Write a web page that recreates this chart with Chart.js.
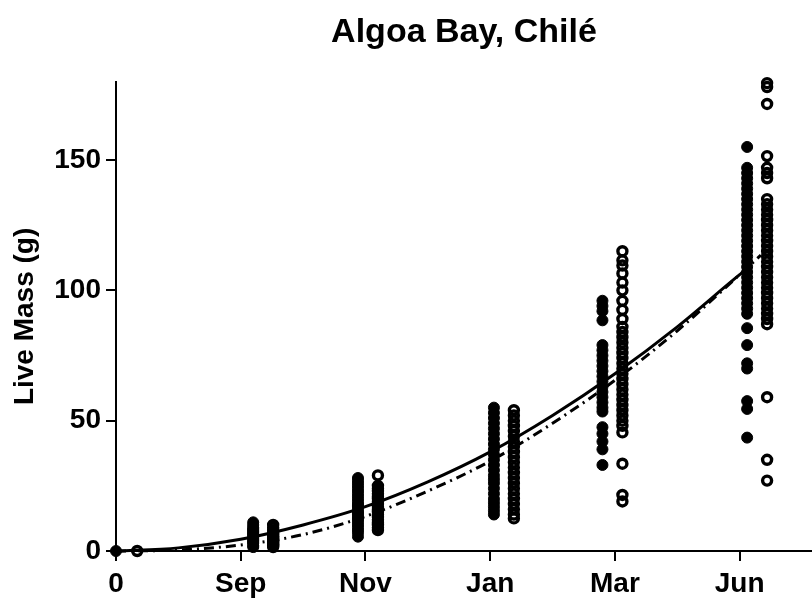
<!DOCTYPE html>
<html>
<head>
<meta charset="utf-8">
<title>Algoa Bay, Chilé</title>
<script src="https://cdn.jsdelivr.net/npm/chart.js@4.4.1/dist/chart.umd.min.js"></script>
<style>
  body { margin: 0; background: #fff; }
  #wrap { width: 812px; height: 601px; }
</style>
</head>
<body>
<div id="wrap"><canvas id="massChart" width="812" height="601"></canvas></div>
<script>
// Etiquetas del eje X (posiciones 0..5)
const xTickLabels = ['0', 'Sep', 'Nov', 'Jan', 'Mar', 'Jun'];

// Posición X de cada grupo (relleno / abierto)
const filledX = [0, 1.10, 1.94, 3.03, 3.90, 5.06];
const openX = [0.17, 1.26, 2.10, 3.19, 4.06, 5.22];

// Masa viva (g) - círculos rellenos
const startFilled = [0];
const sepFilled = [1.5, 2, 3, 3.5, 4, 4.5, 5, 5.5, 6, 6.5, 7, 7.5, 8, 8.5, 9, 10, 11];
const novFilled = [5.5, 7, 8, 9, 10, 11, 12, 12.5, 13, 14, 14.5, 15, 16, 17, 17.5, 18, 19, 20, 21, 22, 23, 24, 25, 26, 27, 28];
const janFilled = [14, 15.5, 17, 18.5, 20, 22, 24, 26, 27.5, 29, 31, 33, 35, 37, 39, 41, 43, 45, 47, 49, 51, 53, 55];
const marFilled = [96, 94, 92, 88.5, 79, 77, 75, 73, 71, 69, 67, 65, 63, 61, 59, 57, 55, 53.5, 47.5, 45, 42, 39, 33];
const junFilled = [155, 147, 145, 143, 141, 139, 137, 135, 133, 131, 129, 127, 125, 123, 121, 119, 117, 115, 113, 111, 109, 107, 105, 103, 101, 99, 97, 95, 93, 91, 85.5, 79, 72, 70, 57.5, 54.5, 43.5];

// Masa viva (g) - círculos abiertos
const startOpen = [0];
const sepOpen = [1.5, 2, 2.5, 3, 3.5, 4, 4.5, 5, 5.5, 6, 6.5, 7, 8, 9, 10];
const novOpen = [8, 9, 10, 11, 12, 13, 14, 15, 16, 17, 18, 19, 20, 21, 22, 23, 24, 25, 29];
const janOpen = [12.5, 14, 16, 18, 20, 22, 24, 26, 28, 30, 32, 34, 36, 38, 40, 42, 44, 46, 48, 50, 52, 54];
const marOpen = [115, 111.5, 109.5, 106.5, 103, 100, 96, 92.5, 89, 86, 84, 82, 80, 78, 76, 74, 72, 70, 68, 66, 64, 62, 60, 58, 56, 54, 52, 50, 48, 45.5, 33.5, 21.5, 19];
const junOpen = [179.5, 178, 171.5, 151.5, 147, 145, 143, 135, 133, 131, 129, 127, 125, 123, 121, 119, 117, 115, 113, 111, 109, 107, 105, 103, 101, 99, 97, 95, 93, 91, 89, 87, 59, 35, 27];

// Curvas ajustadas
const solidX = [0, 0.5, 1, 1.5, 2, 2.5, 3, 3.5, 4, 4.5, 5, 5.04];
const solidFit = [0, 1.2, 4.5, 10, 17, 26.5, 38, 52, 68, 86, 106, 107.5];
const dashX = [0, 0.5, 1, 1.5, 2, 2.5, 3, 3.5, 4, 4.5, 5, 5.17];
const dashFit = [0, 0.4, 2.3, 6.3, 13.3, 23, 34.5, 49, 65.5, 84.5, 106, 113.5];

// Construir puntos {x, y}
function toPoints(xs, groups) {
    const pts = [];
    groups.forEach((vals, i) => {
        vals.forEach(v => pts.push({ x: xs[i], y: v }));
    });
    return pts;
}

function toLine(xs, ys) {
    return xs.map((x, i) => ({ x: x, y: ys[i] }));
}

const filledPoints = toPoints(filledX, [startFilled, sepFilled, novFilled, janFilled, marFilled, junFilled]);
const openPoints = toPoints(openX, [startOpen, sepOpen, novOpen, janOpen, marOpen, junOpen]);

const FONT = "'Liberation Sans', Arial, Helvetica, sans-serif";

const ctx = document.getElementById('massChart').getContext('2d');

let massChart = new Chart(ctx, {
    type: 'scatter',
    data: {
        datasets: [
            {
                label: 'Ajuste',
                data: toLine(solidX, solidFit),
                showLine: true,
                borderColor: '#000',
                borderWidth: 3,
                pointRadius: 0,
                cubicInterpolationMode: 'monotone',
                clip: false
            },
            {
                label: 'Ajuste 2',
                data: toLine(dashX, dashFit),
                showLine: true,
                borderColor: '#000',
                borderWidth: 3,
                borderDash: [10, 5, 2, 5],
                pointRadius: 0,
                cubicInterpolationMode: 'monotone',
                clip: false
            },
            {
                label: 'Relleno',
                data: filledPoints,
                backgroundColor: '#000',
                borderColor: '#000',
                borderWidth: 1,
                pointRadius: 5.5,
                clip: false
            },
            {
                label: 'Abierto',
                data: openPoints,
                backgroundColor: 'rgba(255,255,255,0)',
                borderColor: '#000',
                borderWidth: 3.4,
                pointRadius: 4.5,
                clip: false
            }
        ]
    },
    options: {
        responsive: false,
        animation: false,
        layout: { autoPadding: false, padding: 0 },
        plugins: {
            legend: { display: false },
            tooltip: { enabled: false },
            title: {
                display: true,
                text: 'Algoa Bay, Chilé',
                fullSize: false,
                color: '#000',
                font: { family: FONT, size: 34, weight: 'bold' },
                padding: { top: 12, bottom: 29 }
            }
        },
        scales: {
            x: {
                type: 'linear',
                min: 0,
                max: 5.58,
                afterFit: s => { s.height = 50; },
                border: { display: true, color: '#000', width: 2 },
                grid: { drawOnChartArea: false, drawTicks: true, tickLength: 10, color: '#000', lineWidth: 2 },
                ticks: {
                    stepSize: 1,
                    includeBounds: false,
                    autoSkip: false,
                    maxRotation: 0,
                    padding: 6,
                    color: '#000',
                    font: { family: FONT, size: 28, weight: 'bold' },
                    callback: v => xTickLabels[v]
                }
            },
            y: {
                type: 'linear',
                min: 0,
                max: 180,
                afterFit: s => { s.width = 116; },
                border: { display: true, color: '#000', width: 2 },
                grid: { drawOnChartArea: false, drawTicks: true, tickLength: 10, color: '#000', lineWidth: 2 },
                title: {
                    display: true,
                    text: 'Live Mass (g)',
                    color: '#000',
                    font: { family: FONT, size: 28, weight: 'bold' },
                    padding: { top: 8, bottom: 4 }
                },
                ticks: {
                    stepSize: 50,
                    includeBounds: false,
                    padding: 5,
                    color: '#000',
                    font: { family: FONT, size: 28, weight: 'bold' }
                }
            }
        }
    }
});
</script>
</body>
</html>
